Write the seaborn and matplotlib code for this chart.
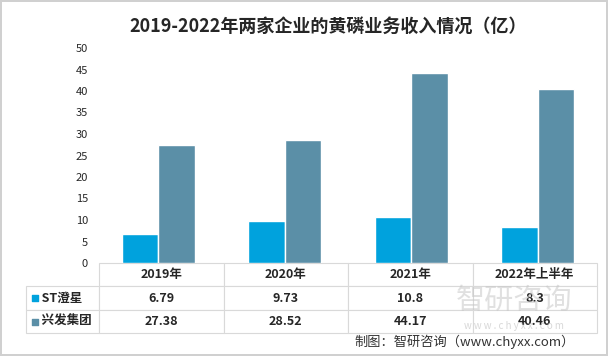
import pandas as pd
import numpy as np
import matplotlib
matplotlib.use("Agg")
import matplotlib.pyplot as plt
import seaborn as sns

years = ["2019年", "2020年", "2021年", "2022年上半年"]
companies = ["ST澄星", "兴发集团"]
st_vals = [6.79, 9.73, 10.8, 8.3]
xf_vals = [27.38, 28.52, 44.17, 40.46]
st_labels = ["6.79", "9.73", "10.8", "8.3"]
xf_labels = ["27.38", "28.52", "44.17", "40.46"]
colors = ["#00A2DD", "#5B8FA7"]

sns.set_theme(style="white")
plt.rcParams['font.family'] = ['Noto Sans CJK SC', 'DejaVu Sans']

df = pd.DataFrame({
    "year": years * 2,
    "company": [companies[0]] * 4 + [companies[1]] * 4,
    "value": st_vals + xf_vals,
})

fig = plt.figure(figsize=(6.08, 3.56), dpi=100)
fig.patch.set_edgecolor("#d0d0d0")
fig.patch.set_linewidth(1.5)
ax = fig.add_axes([99 / 608, 1 - 263 / 356, 498 / 608, 215 / 356])

sns.barplot(data=df, x="year", y="value", hue="company", palette=colors,
            width=0.58, saturation=1, ax=ax, legend=False)

ax.set_ylim(0, 50)
ax.set_yticks(np.arange(0, 51, 5))
ax.tick_params(axis="y", labelsize=8, pad=8, length=0)
ax.set_xticks([])
ax.set_xlabel("")
ax.set_ylabel("")
for s in ["top", "right", "left", "bottom"]:
    ax.spines[s].set_visible(False)

# data table under the chart
cell_text = [[""] + years,
             ["   " + companies[0]] + st_labels,
             ["   " + companies[1]] + xf_labels]
lab_w = 73 / 571
col_w = (1 - lab_w) / 4
tbl = ax.table(cellText=cell_text, colWidths=[lab_w] + [col_w] * 4,
               cellLoc="center", bbox=[-73 / 498, -70 / 215, 571 / 498, 70 / 215])
tbl.auto_set_font_size(False)
for (r, c), cell in tbl.get_celld().items():
    cell.set_edgecolor("#d9d9d9")
    cell.set_linewidth(0.8)
    cell.get_text().set_fontsize(9)
    cell.get_text().set_fontweight("bold")
    if c == 0:
        cell.get_text().set_ha("left")
        cell._loc = "left"
    if r == 0 and c == 0:
        cell.visible_edges = ""

# colored squares for the row keys
for i, col in enumerate(colors):
    ax.scatter([-64 / 498], [-(35 + 24 * i) / 215], marker="s", s=22, color=col,
               transform=ax.transAxes, clip_on=False)

# watermark
fig.text(0.845, 0.155, "智研咨询", fontsize=21, color="#c8c8c8", alpha=0.55,
         ha="center", va="center")
fig.text(0.845, 0.085, "w w w . c h y x x . c o m", fontsize=7, color="#c8c8c8",
         alpha=0.7, ha="center", va="center")

fig.text(0.54, 0.925, "2019-2022年两家企业的黄磷业务收入情况（亿）", fontsize=13,
         fontweight="bold", ha="center", va="center")
fig.text(0.945, 0.04, "制图：智研咨询（www.chyxx.com）", fontsize=9.5,
         ha="right", va="center", color="#333333")

fig.savefig("out.png", dpi=100)
